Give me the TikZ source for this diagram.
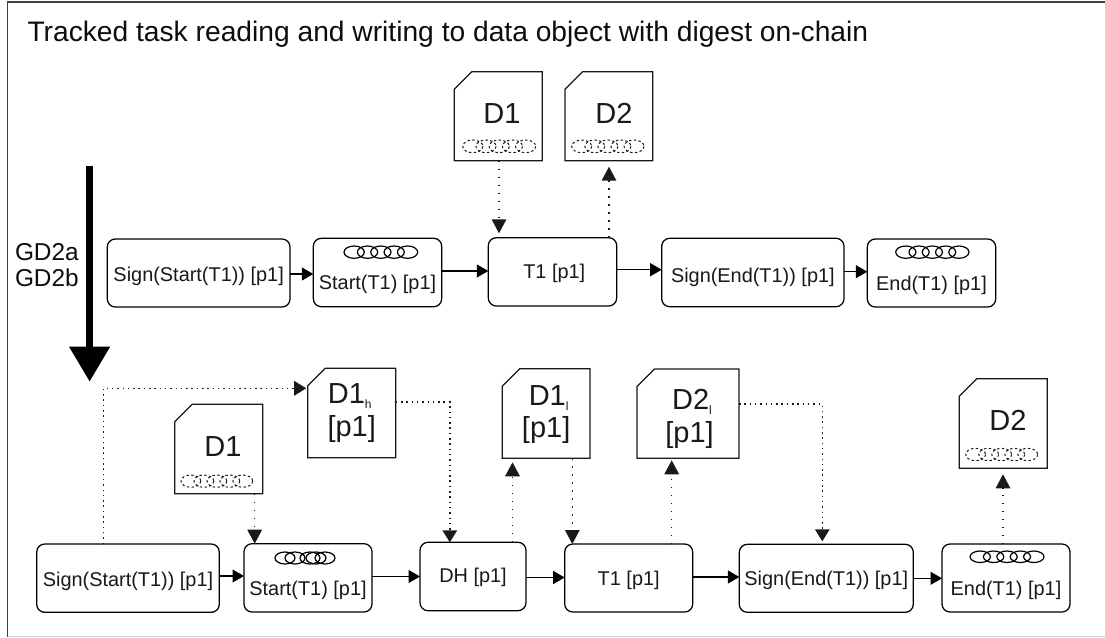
\documentclass[tikz,border=0pt]{standalone}
\usepackage{fontspec}
\setmainfont{Liberation Sans}
\usetikzlibrary{arrows.meta,calc}
\newcommand{\place}[8]{%
  \pgfmathsetmacro{\pcx}{(#3+#5)/2}\pgfmathsetmacro{\pcy}{(#4+#6)/2}%
  \pgfmathsetmacro{\pw}{#5-#3}\pgfmathsetmacro{\ph}{#6-#4}%
  \pgfmathsetmacro{\pup}{#7-#4}\pgfmathsetmacro{\pdn}{#6-#7}%
  \node[#1,minimum width=\pw pt,minimum height=\ph pt,text height=\pup pt,text depth=\pdn pt] (#2) at (\pcx,\pcy) {#8};}
\newcommand{\docbox}[7]{%
  \place{docnode}{#1}{#2}{#3}{#4}{#5}{#6}{#7}%
  \draw[outline] ($(#1.north west)+(0,17.5)$) -- ($(#1.north west)+(17.5,0)$) -- (#1.north east) -- (#1.south east) -- (#1.south west) -- cycle;}
\newcommand{\ringrow}[5]{% style, x1, y1, x2, y2
  \pgfmathsetmacro{\rr}{0.138*(#4-#2)}\pgfmathsetmacro{\rs}{(#4-#2-2*\rr)/4}%
  \pgfmathsetmacro{\ry}{(#5-#3)/2}\pgfmathsetmacro{\rc}{(#3+#5)/2}%
  \foreach \ri in {0,...,4}{\draw[#1] ({#2+\rr+\ri*\rs},\rc) ellipse [x radius=\rr, y radius=\ry];}}
\newcommand{\twol}[2]{\makebox[0pt]{#1}\makebox[0pt]{#2}}
\newcommand{\subm}[2]{\raisebox{-#2pt}{\fontsize{12}{12}\selectfont #1}}
\tikzset{
  x=1pt,y=-1pt,
  flow/.style={draw=black,line width=1.25pt,rounded corners=8pt,inner sep=0pt,outer sep=0pt,font=\fontsize{19.9}{22}\selectfont,text=black!90},
  docnode/.style={inner sep=0pt,outer sep=0pt,font=\fontsize{29}{30}\selectfont,text=black!90},
  outline/.style={draw=black!90,line width=1.25pt,line join=miter},
  ringsolid/.style={draw=black,line width=1.2pt},
  ringdash/.style={draw=black!90,line width=1pt,dash pattern=on 2.4pt off 2.4pt},
  solidarrow/.style={draw=black,line width=1.1pt,-{Triangle[width=13pt,length=11.5pt]}},
  dotwide/.style={draw=black!90,line width=1.5pt,dash pattern=on 1.5pt off 6.5pt,-{Triangle[width=14.5pt,length=14pt]}},
  dotdense/.style={draw=black!90,line width=1.5pt,dash pattern=on 1.5pt off 3.8pt,-{Triangle[width=14.5pt,length=12pt]}},
  textlabel/.style={inner sep=0pt,outer sep=0pt,anchor=base west,text=black!95},
}
\begin{document}
\begin{tikzpicture}
\useasboundingbox (0,0) rectangle (1105,637);
\fill[white] (0,0) rectangle (1105,637);
% frame
\draw[black!75,line width=1.1pt] (7.5,636.5) -- (7.5,2) -- (1105,2);
\draw[black!20,line width=1.1pt] (7.5,636.5) -- (1105,636.5);
% title and side label
\node[textlabel,font=\fontsize{28.2}{30}\selectfont] (title) at (27.5,41.7) {Tracked task reading and writing to data object with digest on-chain};
\node[textlabel,font=\fontsize{24.4}{26}\selectfont] (gda) at (15,260.7) {GD2a};
\node[textlabel,font=\fontsize{24.4}{26}\selectfont] (gdb) at (15,286.7) {GD2b};
% big arrow
\coordinate (bigtop) at (89.6,165.7);
\coordinate (bigtip) at (89.6,381.7);
\draw[black,line width=7.4pt,-{Triangle[width=39pt,length=35pt]}] (bigtop) -- (bigtip);
% top row
\place{flow}{ta}{107.3}{239}{290}{307}{281.7}{Sign(Start(T1)) [p1]}
\place{flow}{tb}{313.3}{238.3}{441.7}{306.7}{289}{Start(T1) [p1]}
\place{flow}{tc}{488.3}{237.7}{616.7}{306}{278}{\hspace*{3.5pt}T1 [p1]}
\place{flow}{td}{661.7}{238.3}{844}{306.7}{282}{Sign(End(T1)) [p1]}
\place{flow}{te}{867.3}{239}{995.7}{307}{290.7}{End(T1) [p1]}
\ringrow{ringsolid}{344}{246}{417.7}{258.3}
\ringrow{ringsolid}{895.7}{246}{969}{258.3}
\docbox{dta}{454.3}{71.7}{542.3}{160.7}{123.3}{\hspace*{7.4pt}D1}
\docbox{dtb}{565}{71.7}{652.7}{160.7}{123.3}{\hspace*{10pt}D2}
\ringrow{ringdash}{462.7}{140}{535.7}{152.7}
\ringrow{ringdash}{571.7}{140}{644}{152.7}
\draw[solidarrow] (ta.east |- 0,274) -- (tb.west |- 0,274);
\draw[solidarrow] (tb.east |- 0,271) -- (tc.west |- 0,271);
\draw[solidarrow] (tc.east |- 0,269.7) -- (td.west |- 0,269.7);
\draw[solidarrow] (td.east |- 0,271.7) -- (te.west |- 0,271.7);
\draw[dotwide,shorten >=4.4pt] (dta.south -| 499,0) -- (tc.north -| 499,0);
\draw[dotwide,shorten >=6pt] (tc.north -| 609,0) -- (dtb.south -| 609,0);
% bottom row
\place{flow}{ba}{36.7}{544}{219.3}{612.3}{586.7}{Sign(Start(T1)) [p1]}
\place{flow}{bb}{244}{543.7}{372}{612}{595}{Start(T1) [p1]}
\place{flow}{bc}{420}{542.3}{526}{610.7}{582.7}{DH [p1]}
\place{flow}{bd}{564.7}{544}{692.7}{612}{585}{T1 [p1]}
\place{flow}{be}{739.3}{544.3}{913.3}{612.3}{585}{Sign(End(T1)) [p1]}
\place{flow}{bf}{942}{544}{1070}{612}{595}{End(T1) [p1]}
\foreach \rc in {285,295,310,316,325}{\draw[ringsolid] (\rc,558) ellipse [x radius=10, y radius=6];}
\ringrow{ringsolid}{970}{551}{1044}{562.5}
\docbox{dd}{174.7}{404.3}{262.7}{493.7}{456.7}{\hspace*{8.6pt}D1}
\ringrow{ringdash}{181}{475}{252.7}{487.3}
\docbox{dh}{307.7}{368.3}{395.7}{457.7}{403.3}{\twol{\hspace*{-4pt}D1\subm{h}{5.5}}{\raisebox{-33.2pt}{[p1]}}}
\docbox{dl}{502.3}{368.7}{590}{458.3}{405}{\twol{\hspace*{5pt}D1\subm{l}{5}}{\raisebox{-32.3pt}{[p1]}}}
\docbox{dm}{637}{369}{739}{458.3}{409.3}{\twol{\hspace*{8pt}D2\subm{l}{5}}{\hspace*{3pt}\raisebox{-33pt}{[p1]}}}
\docbox{dn}{959.3}{378.7}{1047.3}{468.3}{430}{\hspace*{9.4pt}D2}
\ringrow{ringdash}{965.7}{448.3}{1037.7}{460.7}
\draw[solidarrow] (ba.east |- 0,576) -- (bb.west |- 0,576);
\draw[solidarrow] (bb.east |- 0,576.5) -- (bc.west |- 0,576.5);
\draw[solidarrow] (bc.east |- 0,577.5) -- (bd.west |- 0,577.5);
\draw[solidarrow] (bd.east |- 0,577) -- (be.west |- 0,577);
\draw[solidarrow] (be.east |- 0,578.3) -- (bf.west |- 0,578.3);
\draw[dotdense,shorten >=1.5pt] (ba.north -| 103.3,0) |- (dh.west |- 0,388.3);
\draw[dotdense] (dh.east |- 0,402) -| (bc.north -| 449.8,0);
\draw[dotwide] (dd.south -| 254.7,0) -- (bb.north -| 254.7,0);
\draw[dotwide,shorten >=4pt] (bc.north -| 512.5,0) -- (dl.south -| 512.5,0);
\draw[dotwide] (dl.south -| 572.3,0) -- (bd.north -| 572.3,0);
\draw[dotwide,shorten >=2pt] (bd.north -| 671.7,0) -- (dm.south -| 671.7,0);
\draw[dotdense,shorten >=3pt] (dm.east |- 0,404) -| (be.north -| 822.3,0);
\draw[dotwide,shorten >=6pt] (bf.north -| 1003,0) -- (dn.south -| 1003,0);
\end{tikzpicture}
\end{document}
